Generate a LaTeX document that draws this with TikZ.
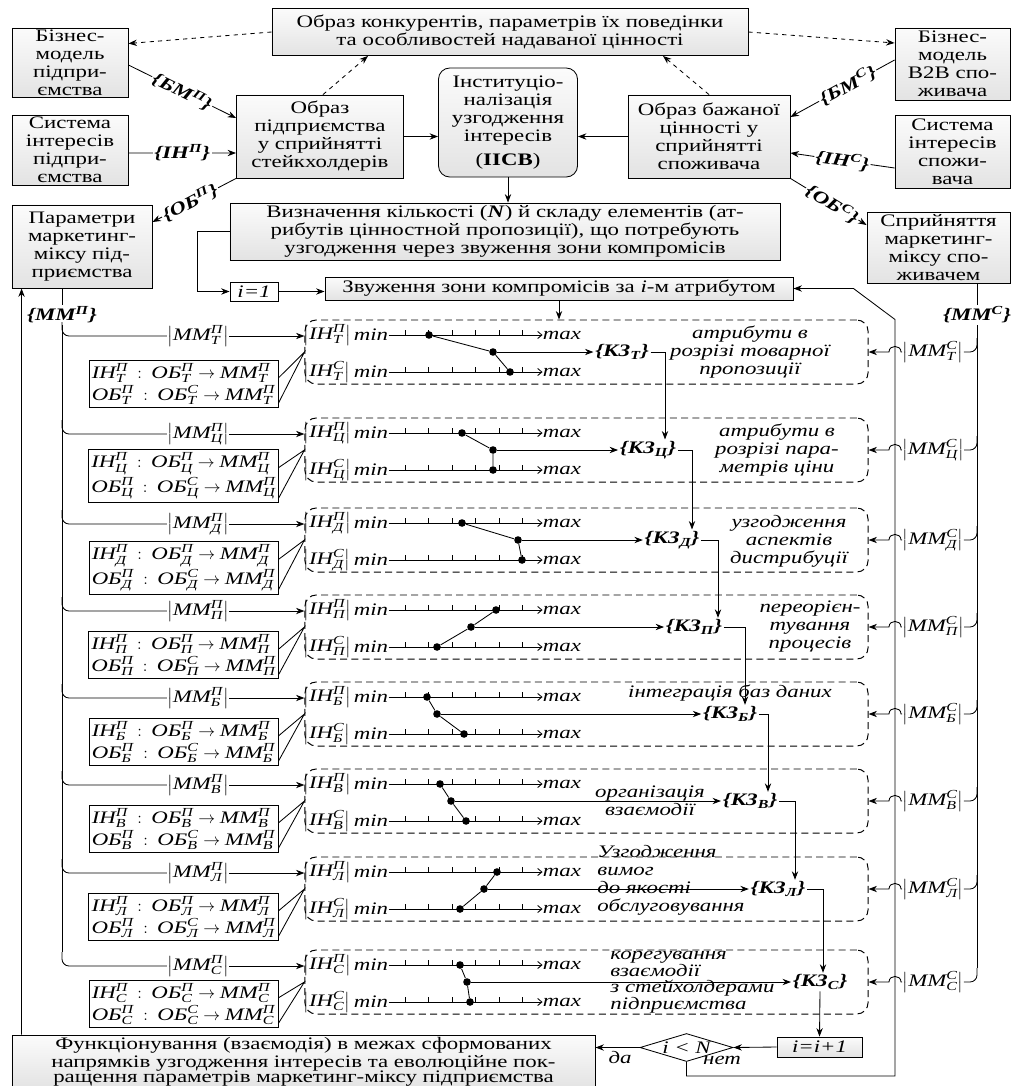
\documentclass[tikz,border=0pt]{standalone}
\usepackage{amsmath}
\usepackage{fontspec}
\setmainfont[FakeStretch=1.3]{Liberation Serif}
\usetikzlibrary{arrows.meta,positioning,shapes.geometric,calc}
\newcommand{\symb}[3]{\text{\itshape #1}^{\text{\itshape #2}}_{\text{\itshape #3}}}
\newcommand{\bfnt}{\fontsize{12.5}{12.8}\selectfont}

\begin{document}
\begin{tikzpicture}[x=0.025cm, y=-0.025cm, line width=0.6pt,
  sbox/.style={rectangle, draw, top color=gray!3, bottom color=gray!22,
               font=\bfnt, align=center, inner sep=1pt},
  rbox/.style={sbox, rounded corners=8pt},
  grp/.style={rectangle, draw, line width=0.7pt, dash pattern=on 5pt off 3pt, rounded corners=8pt,
              minimum width=14.075cm, minimum height=1.6cm, inner sep=0pt},
  frm/.style={rectangle, draw, fill=white, font=\bfnt, inner sep=2pt,
              align=left, minimum width=4.275cm},
  sym/.style={font=\bfnt, inner sep=0pt},
  note/.style={font=\bfnt\itshape, align=center, inner sep=0pt},
  kz/.style={font=\bfnt\bfseries\itshape, inner sep=1pt},
  elbl/.style={font=\bfnt\bfseries\itshape, fill=white, inner sep=1pt},
  kdot/.style={circle, fill, inner sep=0pt, minimum size=0.19cm},
  arr/.style={-{Stealth[length=6pt,width=4.5pt]}},
  axarr/.style={-{Straight Barb[length=3pt,width=5pt]}}
]
\useasboundingbox (0,0) rectangle (1012,1086);

% Top row
\node[sbox, minimum width=11.9cm, minimum height=1.175cm] (konk) at (510,32)
  {Образ конкурентів, параметрів їх поведінки\\та особливостей надаваної цінності};
\node[sbox, minimum width=2.9cm, minimum height=1.725cm] (bmp) at (70,62.5) {Бізнес-\\модель\\підпри-\\ємства};
\node[sbox, minimum width=2.9cm, minimum height=1.75cm] (sip) at (70,150) {Система\\інтересів\\підпри-\\ємства};
\node[sbox, minimum width=4.175cm, minimum height=2.075cm] (obp) at (320,136.5) {Образ\\підприємства\\у сприйнятті\\стейкхолдерів};
\node[rbox, minimum width=3.475cm, minimum height=2.725cm] (inst) at (508,122.5)
  {Інституціо-\\налізація\\узгодження\\інтересів\\[4pt](\textbf{ІІСВ})};
\node[sbox, minimum width=4.05cm, minimum height=2.075cm] (obs) at (709,136.5) {Образ бажаної\\цінності у\\сприйнятті\\споживача};
\node[sbox, minimum width=2.875cm, minimum height=1.8cm] (bmc) at (952.5,64) {Бізнес-\\модель\\B2B спо-\\живача};
\node[sbox, minimum width=2.875cm, minimum height=1.825cm] (sic) at (952.5,151.5) {Система\\інтересів\\спожи-\\вача};

% Second row
\node[sbox, minimum width=3.5cm, minimum height=2.075cm] (par) at (82,246.5) {Параметри\\маркетинг-\\міксу під-\\приємства};
\node[sbox, minimum width=13.75cm, minimum height=1.425cm] (viz) at (505,231.5)
  {Визначення кількості (\textbf{\textit{N}}) й складу елементів (ат-\\рибутів цінностной пропозиції), що потребують\\узгодження через звуження зони компромісів};
\node[sbox, minimum width=3.575cm, minimum height=1.775cm] (spr) at (938.5,247.5) {Сприйняття\\маркетинг-\\міксу спо-\\живачем};
\node[sbox, top color=white, bottom color=white, font=\bfnt\itshape,
      minimum width=1.2cm, minimum height=0.475cm] (ione) at (254,291.5) {i=1};
\node[sbox, minimum width=11.7cm, minimum height=0.575cm] (zv) at (559,288.5) {Звуження зони компромісів за \textit{i}-м атрибутом};
\node[kz] (mmp) at (62,315) {\{ММ\textsuperscript{П}\}};
\node[kz] (mmc) at (977,315) {\{ММ\textsuperscript{С}\}};

% Arrows at the top
\draw[arr, dashed] (konk.west) -- ($(bmp.east)+(0,-19)$);
\draw[arr, dashed] (konk.east) -- ($(bmc.west)+(0,-21)$);
\draw[arr, dashed] ($(obp.north)+(3,0)$) -- ($(konk.south)+(-142,0)$);
\draw[arr, dashed] (obs.north) -- ($(konk.south)+(153,0)$);
\draw[arr] ($(bmp.east)+(0,2.5)$) -- node[elbl, sloped] {\{БМ\textsuperscript{П}\}} ($(obp.west)+(0,-18.5)$);
\draw[arr] ($(sip.east)+(0,3)$) -- node[elbl] {\{ІН\textsuperscript{П}\}} ($(obp.west)+(0,16.5)$);
\draw[arr] (obp.south west) -- node[elbl, sloped, pos=0.55] {\{ОБ\textsuperscript{П}\}} ($(par.east)+(0,-24.5)$);
\draw[arr] ($(bmc.west)+(0,-4)$) -- node[elbl, sloped, pos=0.45] {\{БМ\textsuperscript{С}\}} ($(obs.east)+(0,-19.5)$);
\draw[arr] ($(sic.west)+(0,16.5)$) -- node[elbl, sloped] {\{ІН\textsuperscript{С}\}} ($(obs.east)+(0,16.5)$);
\draw[arr] (obs.south east) -- node[elbl, sloped, pos=0.55] {\{ОБ\textsuperscript{С}\}} ($(spr.west)+(0,-22.5)$);
\draw[arr] (obp.east) -- (obp.east -| inst.west);
\draw[arr] (obs.west) -- (obs.west -| inst.east);
\draw[arr] (inst.south) -- (inst.south |- viz.north);
\draw[arr] (viz.west) -- ++(-32,0) |- (ione.west);
\draw[arr] (ione.east) -- (ione.east -| zv.west);
\draw (mmp.north |- par.south) -- (mmp.north);
\draw (mmc.north |- spr.south) -- (mmc.north);

% Attribute rows
\foreach \rn/\lt/\y/\fy in {T/Т/320/64, C/Ц/418/58, D/Д/508/60, P/П/595/60,
                            B/Б/682/60, V/В/769/60, L/Л/857/60, S/С/950/54}{
  \node[grp] (g\rn) at (586.5,\y+32) {};
  \node[sym, anchor=west] (ihp\rn) at (303,\y+15) {$\left|\symb{ІН}{П}{\lt}\right|$};
  \node[sym, anchor=west] (ihc\rn) at (303,\y+52) {$\left|\symb{ІН}{С}{\lt}\right|$};
  \node[sym] (mnp\rn) at (371,\y+15) {\textit{min}};
  \node[sym] (mnc\rn) at (371,\y+52) {\textit{min}};
  \node[sym] (mxp\rn) at (562,\y+15) {\textit{max}};
  \node[sym] (mxc\rn) at (562,\y+52) {\textit{max}};
  \draw[axarr] (mnp\rn.east) -- (mxp\rn.west);
  \draw[axarr] (mnc\rn.east) -- (mxc\rn.west);
  \foreach \tx in {405,428.5,452,475.5,499,522.5}{
    \draw (\tx,\y+15) -- (\tx,\y+10);
    \draw (\tx,\y+52) -- (\tx,\y+47);
  }
  % left branch
  \node[sym] (mmp\rn) at (198,\y+16) {$\left|\symb{ММ}{П}{\lt}\right|$};
  \draw[rounded corners=5pt] (mmp.south |- 0,\y+2) |- (mmp\rn.west);
  \draw[arr] (mmp\rn.east) -- (mmp\rn.east -| g\rn.west);
  \node[frm] (f\rn) at (183.5,\y+\fy)
    {$\symb{ІН}{П}{\lt}\;:\;\symb{ОБ}{П}{\lt}\rightarrow\symb{ММ}{П}{\lt}$\\[1pt]
     $\symb{ОБ}{П}{\lt}\;:\;\symb{ОБ}{С}{\lt}\rightarrow\symb{ММ}{П}{\lt}$};
  \draw ($(f\rn.north east)+(0,18)$) -- (g\rn.west) -- ($(f\rn.south east)+(0,-5)$);
  % right branch
  \node[sym] (mmc\rn) at (933,\y+32) {$\left|\symb{ММ}{С}{\lt}\right|$};
  \draw[arr] (mmc\rn.west) -- (901,\y+32) to[out=90, in=90, looseness=1.6] (889,\y+32) -- (g\rn.east);
  \draw[rounded corners=5pt] (mmc.south |- 0,\y+18) |- (mmc\rn.east);
}
\draw (mmp.south) -- (mmp.south |- 0,952);
\draw (mmc.south) -- (mmc.south |- 0,968);

% Т
\node[kdot] (aT) at (429,335) {};
\node[kdot] (bT) at (493,352) {};
\node[kdot] (cT) at (510,372) {};
\draw (aT) -- (bT) -- (cT);
\node[kz] (kzT) at (622,352) {\{КЗ\textsubscript{Т}\}};
\draw[arr] (bT) -- (kzT);
\node[note] (nT) at (750,352) {атрибути в\\розрізі товарної\\пропозиції};

% Ц
\node[kdot] (aC) at (462,433) {};
\node[kdot] (bC) at (493,450) {};
\node[kdot] (cC) at (493,470) {};
\draw (aC) -- (bC) -- (cC);
\node[kz] (kzC) at (648,450) {\{КЗ\textsubscript{Ц}\}};
\draw[arr] (bC) -- (kzC);
\node[note] (nC) at (777,450) {атрибути в\\розрізі пара-\\метрів ціни};

% Д
\node[kdot] (aD) at (462,523) {};
\node[kdot] (bD) at (518,540) {};
\node[kdot] (cD) at (522,560) {};
\draw (aD) -- (bD) -- (cD);
\node[kz] (kzD) at (672,540) {\{КЗ\textsubscript{Д}\}};
\draw[arr] (bD) -- (kzD);
\node[note] (nD) at (789,541) {узгодження\\аспектів\\дистрибуції};

% П
\node[kdot] (aP) at (496,610) {};
\node[kdot] (bP) at (471,627) {};
\node[kdot] (cP) at (437,647) {};
\draw (aP) -- (bP) -- (cP);
\node[kz] (kzP) at (694,627) {\{КЗ\textsubscript{П}\}};
\draw[arr] (bP) -- (kzP);
\node[note] (nP) at (810,627) {переорієн-\\тування\\процесів};

% Б
\node[kdot] (aB) at (427,697) {};
\node[kdot] (bB) at (437,714) {};
\node[kdot] (cB) at (464,734) {};
\draw (aB) -- (bB) -- (cB);
\node[kz] (kzB) at (730,714) {\{КЗ\textsubscript{Б}\}};
\draw[arr] (bB) -- (kzB);
\node[note] (nB) at (730,693) {інтеграція баз даних};

% В
\node[kdot] (aV) at (440,784) {};
\node[kdot] (bV) at (451,801) {};
\node[kdot] (cV) at (466,821) {};
\draw (aV) -- (bV) -- (cV);
\node[kz] (kzV) at (750,801) {\{КЗ\textsubscript{В}\}};
\draw[arr] (bV) -- (kzV);
\node[note] (nV) at (650,801) {організація\\взаємодії};

% Л
\node[kdot] (aL) at (497,872) {};
\node[kdot] (bL) at (484,889) {};
\node[kdot] (cL) at (460,909) {};
\draw (aL) -- (bL) -- (cL);
\node[kz] (kzL) at (778,889) {\{КЗ\textsubscript{Л}\}};
\draw[arr] (bL) -- (kzL);
\node[note, align=left, anchor=west] (nL) at (597,880) {Узгодження\\вимог\\до якості\\обслуговування};

% С
\node[kdot] (aS) at (460,965) {};
\node[kdot] (bS) at (467,982) {};
\node[kdot] (cS) at (470,1002) {};
\draw (aS) -- (bS) -- (cS);
\node[kz] (kzS) at (820,982) {\{КЗ\textsubscript{С}\}};
\draw[arr] (bS) -- (kzS);
\node[note, align=left, anchor=west, font=\fontsize{12.5}{11}\selectfont\itshape] (nS) at (610,982)
  {корегування\\взаємодії\\з стейхолдерами\\підприємства};

% Chain of compromise zones
\draw[arr] (kzT.east) -| ($(kzC.north)+(17,0)$);
\draw[arr] (kzC.east) -| ($(kzD.north)+(20,0)$);
\draw[arr] (kzD.east) -| ($(kzP.north)+(24,0)$);
\draw[arr] (kzP.east) -| ($(kzB.north)+(15,0)$);
\draw[arr] (kzB.east) -| ($(kzV.north)+(18,0)$);
\draw[arr] (kzV.east) -| ($(kzL.north)+(17,0)$);
\draw[arr] (kzL.east) -| ($(kzS.north)+(3,0)$);

% Bottom
\node[sbox, minimum width=14.575cm, minimum height=1.35cm, font=\fontsize{12.5}{11}\selectfont] (func) at (303.5,1062)
  {Функціонування (взаємодія) в межах сформованих\\напрямків узгодження інтересів та еволюційне пок-\\ращення параметрів маркетинг-міксу підприємства};
\node[sbox, font=\bfnt\itshape, minimum width=2.125cm, minimum height=0.5cm] (ii) at (819.5,1047) {i=i+1};
\node[diamond, draw, fill=white, aspect=3.3, inner sep=0pt, minimum width=2.325cm,
      minimum height=0.7cm, font=\bfnt\itshape] (cond) at (686.5,1047.5) {i < N};
\node[note] (yes) at (620,1057) {да};
\node[note] (no) at (722,1060) {нет};
\coordinate (lp) at (895,1076);
\draw[arr] (kzS.south) -- (ii.north);
\draw[arr] (ii.west) -- (cond.east);
\draw[arr] (cond.west) -- (cond.west -| func.east);
\draw[arr] (cond.south) |- (lp) -- (lp |- gT.north) -- ($(zv.east)+(60,0)$) -- (zv.east);
\draw[arr] ($(func.north west)+(10,0)$) -- ($(par.south west)+(10,0)$);
\draw[arr] (zv.south) -- (zv.south |- gT.north);
\end{tikzpicture}
\end{document}
